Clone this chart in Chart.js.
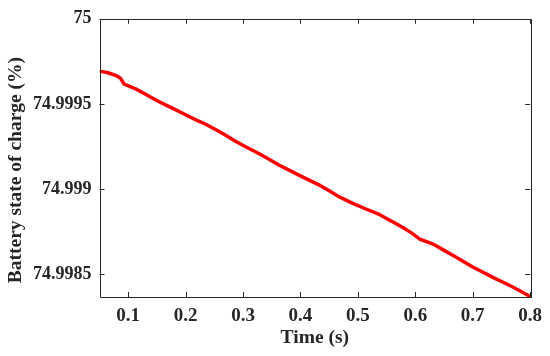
<!DOCTYPE html>
<html>
<head>
<meta charset="utf-8">
<script src="https://cdn.jsdelivr.net/npm/chart.js@4/dist/chart.umd.min.js"></script>
<style>
html,body{margin:0;padding:0;background:#fff;}
#wrap{width:550px;height:356px;}
</style>
</head>
<body>
<div id="wrap"><canvas id="c" width="550" height="356"></canvas></div>
<script>
const timeS = [0.05, 0.065, 0.079, 0.086, 0.089, 0.093, 0.114, 0.131, 0.148, 0.165, 0.183, 0.200, 0.217, 0.235, 0.252, 0.269, 0.286, 0.307, 0.329, 0.346, 0.364, 0.381, 0.398, 0.415, 0.433, 0.450, 0.467, 0.490, 0.513, 0.536, 0.553, 0.566, 0.579, 0.594, 0.602, 0.608, 0.631, 0.648, 0.666, 0.683, 0.700, 0.718, 0.735, 0.752, 0.769, 0.785, 0.800];
const socPct = [74.999693, 74.999683, 74.999667, 74.999652, 74.999638, 74.999616, 74.999587, 74.999556, 74.999523, 74.999495, 74.999465, 74.999437, 74.999408, 74.999381, 74.999350, 74.999318, 74.999283, 74.999245, 74.999206, 74.999174, 74.999139, 74.999110, 74.999081, 74.999053, 74.999024, 74.998990, 74.998956, 74.998918, 74.998885, 74.998854, 74.998822, 74.998798, 74.998773, 74.998742, 74.998722, 74.998706, 74.998678, 74.998645, 74.998610, 74.998577, 74.998543, 74.998512, 74.998482, 74.998455, 74.998427, 74.998398, 74.998370];
const xTicks = [0.1, 0.2, 0.3, 0.4, 0.5, 0.6, 0.7, 0.8];
const yTicks = [74.9985, 74.999, 74.9995, 75];
const yTickLabels = ['74.9985', '74.999', '74.9995', '75'];
const xTitle = 'Time (s)';
const yTitle = 'Battery state of charge (%)';

const FONT = "'Liberation Serif', 'Times New Roman', serif";
const AXC = '#262626';

const boxPlugin = {
  id: 'boxTicks',
  afterDraw(chart) {
    const {ctx, chartArea: a, scales} = chart;
    ctx.save();
    ctx.strokeStyle = AXC;
    ctx.lineWidth = 1;
    ctx.beginPath();
    ctx.rect(Math.round(a.left) + 0.5, Math.round(a.top) + 0.5, Math.round(a.right - a.left), Math.round(a.bottom - a.top));
    const L = 5;
    xTicks.forEach(v => {
      const px = Math.round(scales.x.getPixelForValue(v)) + 0.5;
      ctx.moveTo(px, a.bottom); ctx.lineTo(px, a.bottom - L);
      ctx.moveTo(px, a.top); ctx.lineTo(px, a.top + L);
    });
    yTicks.forEach(v => {
      const py = Math.round(scales.y.getPixelForValue(v)) + 0.5;
      ctx.moveTo(a.left, py); ctx.lineTo(a.left + L, py);
      ctx.moveTo(a.right, py); ctx.lineTo(a.right - L, py);
    });
    ctx.stroke();
    ctx.restore();
  }
};

new Chart(document.getElementById('c'), {
  type: 'line',
  data: {
    datasets: [{
      data: timeS.map((t, i) => ({x: t, y: socPct[i]})),
      borderColor: '#ff0000',
      borderWidth: 3.5,
      pointRadius: 0,
      tension: 0,
      fill: false
    }]
  },
  options: {
    responsive: false,
    animation: false,
    plugins: {legend: {display: false}, tooltip: {enabled: false}},
    layout: {padding: {top: 14, right: 17, left: 0, bottom: 0}},
    scales: {
      x: {
        type: 'linear',
        min: 0.05, max: 0.8,
        afterBuildTicks: s => { s.ticks = xTicks.map(v => ({value: v})); },
        afterFit: s => { s.height = 59; },
        grid: {display: false, drawTicks: false},
        border: {display: false},
        ticks: {
          padding: 8,
          color: '#262626',
          font: {family: FONT, size: 19, weight: 'bold'},
          callback: v => String(v),
          maxRotation: 0
        },
        title: {
          display: true, text: xTitle, color: '#262626',
          font: {family: FONT, size: 19.5, weight: 'bold'},
          padding: {top: 0, bottom: 6}
        }
      },
      y: {
        type: 'linear',
        min: 74.998367, max: 75,
        afterBuildTicks: s => { s.ticks = yTicks.map(v => ({value: v})); },
        afterFit: s => { s.width = 99.5; },
        grid: {display: false, drawTicks: false},
        border: {display: false},
        ticks: {
          padding: 8,
          color: '#262626',
          font: {family: FONT, size: 18, weight: 'bold'},
          callback: (v) => { const i = yTicks.indexOf(v); return i >= 0 ? yTickLabels[i] : ''; }
        },
        title: {
          display: true, text: yTitle + '\u00a0\u00a0\u00a0\u00a0\u00a0', color: '#262626',
          font: {family: FONT, size: 19.5, weight: 'bold'},
          padding: {top: 4, bottom: 0}
        }
      }
    }
  },
  plugins: [boxPlugin]
});
</script>
</body>
</html>
